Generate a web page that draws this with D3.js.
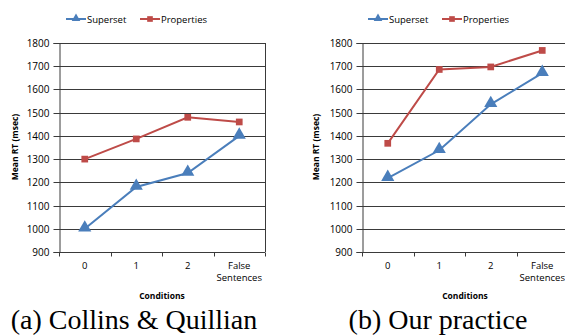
<!DOCTYPE html>
<html><head><meta charset="utf-8">
<script src="https://cdn.jsdelivr.net/npm/d3@7"></script>
<style>body{margin:0;background:#fff;} svg{display:block;}</style>
</head><body>
<svg id="c" width="565" height="336"></svg>
<script>
const categories = ["0", "1", "2", "False Sentences"];
const yTicks = [900, 1000, 1100, 1200, 1300, 1400, 1500, 1600, 1700, 1800];
const seriesNames = ["Superset", "Properties"];
const collinsSuperset = [1000, 1180, 1240, 1400];
const collinsProperties = [1300, 1387, 1480, 1460];
const practiceSuperset = [1218, 1338, 1536, 1670];
const practiceProperties = [1368, 1686, 1697, 1768];
const captions = ["(a) Collins & Quillian", "(b) Our practice"];

const svg = d3.select("#c");
const font = "'Open Sans', 'DejaVu Sans', sans-serif";
const colors = {Superset: "#4a7ebb", Properties: "#be4b48"};

function panel(cfg) {
  const g = svg.append("g");
  const x = d3.scaleBand().domain(categories).range([cfg.x0, cfg.x1]);
  const y = d3.scaleLinear().domain([900, 1800]).range([252, 43]);
  const clipId = "clip" + cfg.id;
  svg.append("clipPath").attr("id", clipId).append("rect").attr("x", 0).attr("y", 0).attr("width", 565).attr("height", 336);
  g.selectAll(".grid").data(yTicks.slice(1)).join("line")
    .attr("x1", cfg.x0).attr("x2", cfg.x1)
    .attr("y1", d => Math.round(y(d)) + 0.5).attr("y2", d => Math.round(y(d)) + 0.5)
    .attr("stroke", "#3a3a3a").attr("stroke-width", 1);
  g.append("line").attr("x1", cfg.x1 + 0.5).attr("x2", cfg.x1 + 0.5).attr("y1", y(1800)).attr("y2", y(900))
    .attr("stroke", "#3a3a3a");
  const ya = d3.axisLeft(y).tickValues(yTicks).tickFormat(d3.format("d")).tickSize(6).tickPadding(4);
  const yg = g.append("g").attr("transform", `translate(${cfg.x0 + 0.5},0)`).call(ya);
  yg.select(".domain").attr("stroke", "#3a3a3a");
  yg.selectAll(".tick line").attr("stroke", "#3a3a3a");
  yg.selectAll(".tick").attr("transform", d => `translate(0,${Math.round(y(d)) + 0.5})`);
  yg.selectAll("text").attr("font-family", font).attr("font-size", 10).attr("fill", "#000");
  const xg = g.append("g").attr("transform", `translate(0,${Math.round(y(900)) + 0.5})`);
  xg.append("line").attr("x1", cfg.x0).attr("x2", cfg.x1).attr("stroke", "#3a3a3a");
  const bounds = categories.map(c => x(c)).concat([cfg.x1]);
  xg.selectAll(".xt").data(bounds).join("line")
    .attr("x1", d => Math.round(d) + 0.5).attr("x2", d => Math.round(d) + 0.5)
    .attr("y1", 0).attr("y2", 4).attr("stroke", "#3a3a3a");
  categories.forEach(c => {
    const words = c === "False Sentences" ? ["False", "Sentences"] : [c];
    const t = xg.append("text").attr("text-anchor", "middle").attr("font-family", font).attr("font-size", 9.5)
      .attr("x", x(c) + x.bandwidth() / 2).attr("y", 16);
    words.forEach((w, i) => t.append("tspan").attr("x", x(c) + x.bandwidth() / 2).attr("dy", i === 0 ? 0 : 12.5).text(w));
  });
  g.append("text").attr("transform", `translate(${cfg.yLabelX},147) rotate(-90)`).attr("text-anchor", "middle")
    .attr("font-family", font).attr("font-size", 8.5).attr("font-weight", "bold").text("Mean RT (msec)");
  g.append("text").attr("x", (cfg.x0 + cfg.x0 + 206) / 2).attr("y", 299).attr("text-anchor", "middle")
    .attr("font-family", font).attr("font-size", 8.5).attr("font-weight", "bold").text("Conditions");
  const line = d3.line().x((d, i) => x(categories[i]) + x.bandwidth() / 2).y(d => y(d));
  const data = {Superset: cfg.superset, Properties: cfg.properties};
  const tri = d3.symbol().type(d3.symbolTriangle).size(75);
  const sq = d3.symbol().type(d3.symbolSquare).size(45);
  seriesNames.forEach(s => {
    const sg = g.append("g").attr("clip-path", `url(#${clipId})`);
    sg.append("path").datum(data[s]).attr("d", line).attr("fill", "none").attr("stroke", colors[s]).attr("stroke-width", 2);
    sg.selectAll(".m").data(data[s]).join("path")
      .attr("d", s === "Superset" ? tri : sq)
      .attr("transform", (d, i) => `translate(${x(categories[i]) + x.bandwidth() / 2},${y(d) + (s === "Superset" ? -1 : 0)})`)
      .attr("fill", colors[s]);
  });
  const lg = g.append("g").attr("transform", `translate(${cfg.legendX},19)`);
  const items = [{s: "Superset", dx: 0}, {s: "Properties", dx: 74}];
  items.forEach(it => {
    lg.append("line").attr("x1", it.dx).attr("x2", it.dx + 20).attr("y1", 0).attr("y2", 0).attr("stroke", colors[it.s]).attr("stroke-width", 2);
    lg.append("path").attr("d", it.s === "Superset" ? d3.symbol().type(d3.symbolTriangle).size(32)() : d3.symbol().type(d3.symbolSquare).size(32)())
      .attr("transform", `translate(${it.dx + 10},${it.s === "Superset" ? -0.5 : 0})`).attr("fill", colors[it.s]);
    lg.append("text").attr("x", it.dx + 21).attr("y", 3.5).attr("font-family", font).attr("font-size", 9.5).text(it.s);
  });
  svg.append("text").attr("x", cfg.capX).attr("y", 329).attr("text-anchor", "middle")
    .attr("font-family", "'Liberation Serif', 'Times New Roman', serif").attr("font-size", 28).text(cfg.caption);
}

panel({id: 1, x0: 59, x1: 265, superset: collinsSuperset, properties: collinsProperties, yLabelX: 18, legendX: 66, capX: 134, caption: captions[0]});
panel({id: 2, x0: 362, x1: 568, superset: practiceSuperset, properties: practiceProperties, yLabelX: 319, legendX: 368, capX: 438, caption: captions[1]});
</script>
</body></html>
